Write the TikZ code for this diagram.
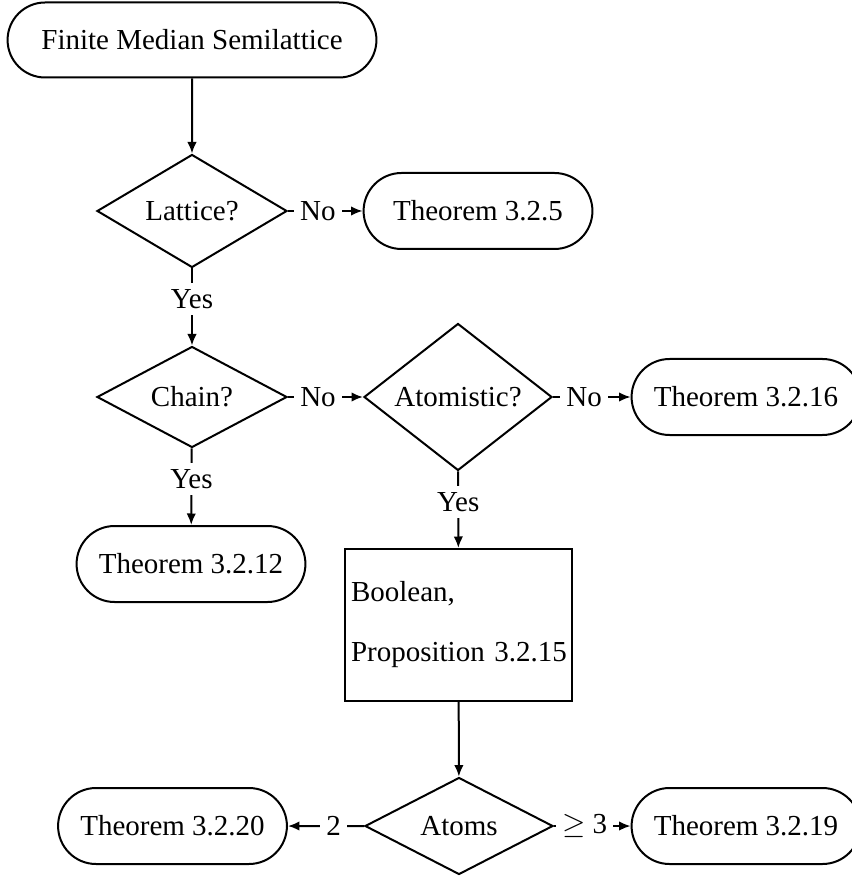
\documentclass[tikz,border=0pt]{standalone}
\usepackage{fontspec}
\setmainfont{Liberation Serif}
\usetikzlibrary{arrows.meta,shapes.geometric,shapes.misc}

\begin{document}
\begin{tikzpicture}[x=0.4pt,y=-0.4pt,font=\fontsize{11.6}{14}\selectfont]
            \tikzset{terminal/.style = {shape=rounded rectangle,draw,line width=0.8pt,minimum width=98.2pt,minimum height=30.4pt}}
            \tikzset{decision/.style = {shape=diamond,draw,line width=0.8pt,aspect=2,inner sep=0pt}}
            \tikzset{edge/.style = {->,> = {Latex[length=4.6pt,width=3.8pt]},line width=0.8pt}}
            \tikzset{answer/.style = {fill=white,inner sep=2.5pt,pos=0.4}}

            \useasboundingbox (0,0) rectangle (851,877);

            \node[terminal,minimum width=154.2pt,minimum height=30pt] (start) at (192,40) {Finite Median Semilattice};

            \node[decision,minimum width=76pt,minimum height=45.2pt] (lattice) at (192,211) {Lattice?};
            \node[terminal] (thm5) at (478,211) {Theorem 3.2.5};

            \node[decision,minimum width=76pt,minimum height=40.4pt] (chain) at (192,397) {Chain?};
            \node[decision,minimum width=75.2pt,minimum height=58.8pt] (atomistic) at (458,397) {Atomistic?};
            \node[terminal] (thm16) at (746,397) {Theorem 3.2.16};

            \node[terminal] (thm12) at (191,564) {Theorem 3.2.12};
            \node[rectangle,draw,line width=0.8pt,minimum width=90.8pt,minimum height=60.8pt,
            text width=86pt,inner xsep=2.4pt,align=left] (boolean) at (458.5,625) {Boolean,\\[10pt]Proposition~3.2.15};

            \node[decision,minimum width=75.2pt,minimum height=38.8pt] (atoms) at (459,826) {Atoms};
            \node[terminal] (thm20) at (172.5,826) {Theorem 3.2.20};
            \node[terminal] (thm19) at (746,826) {Theorem 3.2.19};

            \draw[edge] (start) to (lattice);
            \draw[edge] (lattice) to node[answer] {No} (thm5);
            \draw[edge] (lattice) to node[answer] {Yes} (chain);
            \draw[edge] (chain) to node[answer] {No} (atomistic);
            \draw[edge] (chain) to node[answer] {Yes} (thm12);
            \draw[edge] (atomistic) to node[answer] {No} (thm16);
            \draw[edge] (atomistic) to node[answer] {Yes} (boolean);
            \draw[edge] (boolean) to (atoms);
            \draw[edge] (atoms) to node[answer] {2} (thm20);
            \draw[edge] (atoms) to node[answer] {$\geq$ 3} (thm19);
\end{tikzpicture}
\end{document}
